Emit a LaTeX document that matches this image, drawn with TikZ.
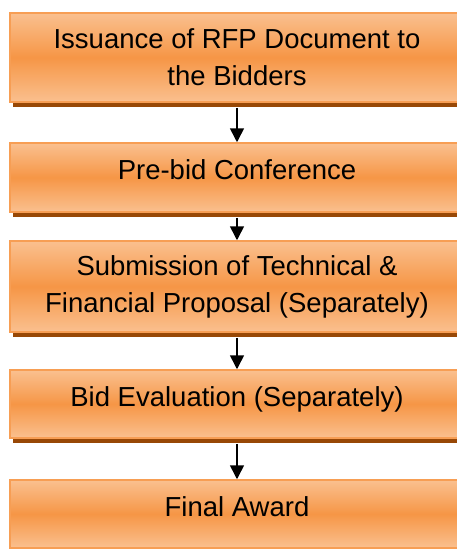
\documentclass[tikz,border=0pt]{standalone}
\usepackage{fontspec}
\setmainfont{Liberation Sans}
\usetikzlibrary{arrows.meta,shadows}
\definecolor{boxlight}{RGB}{250,192,143}
\definecolor{boxmid}{RGB}{246,150,70}
\definecolor{boxborder}{RGB}{247,158,84}
\definecolor{boxshadow}{RGB}{152,72,6}
\tikzset{
  stagebox/.style={rectangle, minimum width=454pt, inner sep=0pt,
    draw=boxborder, line width=1.5pt,
    top color=boxlight, bottom color=boxlight, middle color=boxmid,
    general shadow={fill=boxshadow, shadow xshift=3pt, shadow yshift=-5pt},
    align=center, font=\fontsize{27.5}{37}\selectfont},
  oneline/.style={text height=20pt, text depth=16pt},
  flowarrow/.style={line width=1.6pt, -{Triangle[width=14pt,length=14pt]}}
}
\begin{document}
\begin{tikzpicture}[x=1pt,y=-1pt]
\path[use as bounding box] (0,0) rectangle (457,549);
\clip (0,0) rectangle (457,549);
\node[stagebox, minimum height=89pt] (s1) at (237,57.5) {Issuance of RFP Document to\\the Bidders};
\node[stagebox, oneline, minimum height=69pt] (s2) at (237,177.5) {Pre-bid Conference};
\node[stagebox, minimum height=91pt] (s3) at (237,286.5) {Submission of Technical \&\\Financial Proposal (Separately)};
\node[stagebox, oneline, minimum height=68pt] (s4) at (237,404) {Bid Evaluation (Separately)};
\node[stagebox, oneline, minimum height=68pt] (s5) at (237,514) {Final Award};
\draw[flowarrow] ([yshift=-5pt]s1.south) -- (s2.north);
\draw[flowarrow] ([yshift=-5pt]s2.south) -- (s3.north);
\draw[flowarrow] ([yshift=-5pt]s3.south) -- (s4.north);
\draw[flowarrow] ([yshift=-5pt]s4.south) -- (s5.north);
\end{tikzpicture}
\end{document}
